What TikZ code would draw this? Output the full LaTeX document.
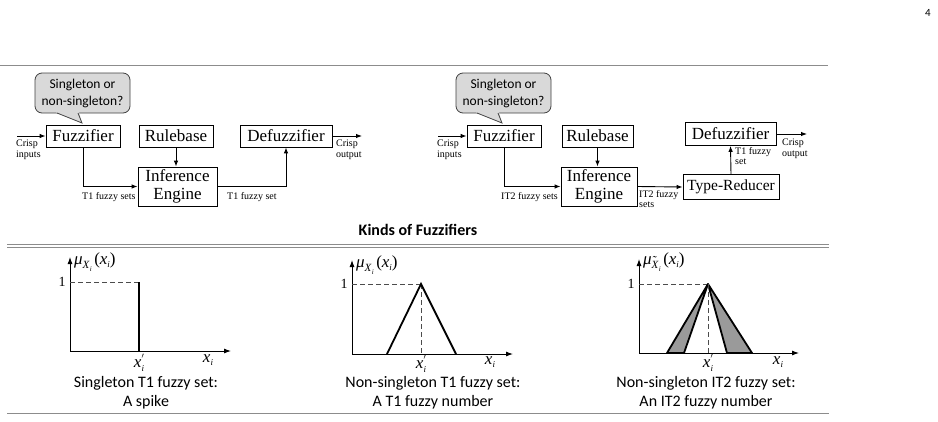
\documentclass[tikz,border=0pt]{standalone}
\usepackage{fontspec}
\setmainfont{Liberation Serif}
\newfontfamily\calib{Carlito}
\usetikzlibrary{arrows.meta}
\definecolor{rulegray}{HTML}{8C8C8C}
\definecolor{calfill}{HTML}{D9D9D9}
\definecolor{calline}{HTML}{404040}
\definecolor{tri}{HTML}{9A9A9A}
\newcommand{\mylblsub}[1]{\raisebox{-4pt}{\fontsize{11}{11}\selectfont\textit{#1}\raisebox{-2.5pt}{\fontsize{7}{7}\selectfont\textit{i}}}}
\newcommand{\mymulbl}[1]{\textit{μ}\mylblsub{#1}\hspace{2.5pt}(\textit{x}\raisebox{-3pt}{\fontsize{9}{9}\selectfont\textit{i}})}
\newcommand{\mytildex}{\makebox[0pt][l]{\hspace{0.5pt}\raisebox{4.5pt}{\fontsize{12}{12}\selectfont\char"02DC}}\textit{X}}
\newcommand{\myxp}{\textit{x}\rlap{\raisebox{5pt}{\fontsize{11}{11}\selectfont$'$}}\raisebox{-3.5pt}{\fontsize{9}{9}\selectfont\textit{i}}}
\newcommand{\myx}{\textit{x}\raisebox{-3.5pt}{\fontsize{9}{9}\selectfont\textit{i}}}
\begin{document}
\begin{tikzpicture}[x=1pt,y=-1pt,
  box/.style={draw, line width=0.8pt, inner sep=0pt, align=center, font=\fontsize{17}{18}\selectfont},
  flow/.style={-{Latex[length=6pt,width=4.5pt]}, line width=0.9pt},
  small/.style={font=\fontsize{10}{10.5}\selectfont, align=left, inner sep=0pt},
  calltext/.style={font=\calib\fontsize{13.5}{17}\selectfont, align=center, inner sep=0pt},
  callbox/.style={fill=calfill, draw=calline, line width=0.8pt},
  hrule/.style={draw=rulegray, line width=0.9pt},
  axis/.style={line width=0.9pt, -{Latex[length=7pt,width=5pt]}},
  mf/.style={line width=1.8pt},
  dashln/.style={dash pattern=on 5pt off 3pt, line width=0.8pt, draw=black!70},
  caption/.style={font=\calib\fontsize{16}{19.5}\selectfont, align=center, inner sep=0pt},
  mathlbl/.style={font=\fontsize{17}{17}\selectfont, inner sep=0pt},
  onelbl/.style={font=\fontsize{14}{14}\selectfont, inner sep=0pt}
]
\useasboundingbox (0,0) rectangle (938,421);

% page number and rules
\node[font=\calib\fontsize{11}{11}\selectfont, inner sep=0pt] (pg) at (928,13) {4};
\draw[hrule] (0,65) -- (828,65);
\draw[hrule] (7,244) -- (829,244);
\draw[hrule] (7,247.5) -- (829,247.5);
\draw[hrule] (7,413) -- (829,413);
\node[font=\calib\bfseries\fontsize{16}{16}\selectfont, inner sep=0pt] (kinds) at (418,230) {Kinds of Fuzzifiers};

% ===== left diagram =====
\draw[callbox, rounded corners=7pt] (35,73) rectangle (130,113);
\fill[calfill] (56,112.2) -- (82,123) -- (79,112.2) -- cycle;
\draw[calline, line width=0.8pt, line join=miter] (57,113) -- (82,123) -- (78,113);
\node[calltext] (call1) at (82.5,93) {Singleton or\\non-singleton?};
\node[box, minimum width=74pt, minimum height=22pt] (fuzz1) at (83,136) {Fuzzifier};
\node[box, minimum width=74pt, minimum height=22pt] (rule1) at (176,136) {Rulebase};
\node[box, minimum width=92pt, minimum height=22pt] (defz1) at (286,136) {Defuzzifier};
\node[box, minimum width=79pt, minimum height=39pt] (inf1) at (177.5,186.5) {Inference\\Engine};
\coordinate (in1) at (17,136);
\coordinate (out1) at (362,136);
\draw[flow] (in1) -- (fuzz1.west);
\node[small, anchor=north west] (lin1) at (16,140) {Crisp\\inputs};
\draw[flow] (fuzz1.south) |- (inf1.west);
\node[small, anchor=north west] (lfs1) at (82,192) {T1 fuzzy sets};
\draw[flow] (rule1.south) -- (rule1.south |- inf1.north);
\draw[flow] (inf1.east) -| (defz1.south);
\node[small, anchor=north west] (lfo1) at (227,192) {T1 fuzzy set};
\draw[flow] (defz1.east) -- (out1);
\node[small, anchor=north west] (lout1) at (336,140) {Crisp\\output};

% ===== right diagram =====
\draw[callbox, rounded corners=7pt] (456,73) rectangle (551,113);
\fill[calfill] (476,112.2) -- (502,123) -- (499,112.2) -- cycle;
\draw[calline, line width=0.8pt, line join=miter] (477,113) -- (502,123) -- (498,113);
\node[calltext] (call2) at (503.5,93) {Singleton or\\non-singleton?};
\node[box, minimum width=74pt, minimum height=22pt] (fuzz2) at (504,136) {Fuzzifier};
\node[box, minimum width=71pt, minimum height=22pt] (rule2) at (597.5,136) {Rulebase};
\node[box, minimum width=91pt, minimum height=23pt] (defz2) at (730.5,134) {Defuzzifier};
\node[box, minimum width=76pt, minimum height=39pt] (inf2) at (599,186.5) {Inference\\Engine};
\node[box, minimum width=96pt, minimum height=25pt, font=\fontsize{15.5}{16}\selectfont] (tr2) at (731,187) {Type-Reducer};
\coordinate (in2) at (438,136);
\coordinate (out2) at (807,134);
\draw[flow] (in2) -- (fuzz2.west);
\node[small, anchor=north west] (lin2) at (437,140) {Crisp\\inputs};
\draw[flow] (fuzz2.south) |- (inf2.west);
\node[small, anchor=north west] (lfs2) at (501,192) {IT2 fuzzy sets};
\draw[flow] (rule2.south) -- (rule2.south |- inf2.north);
\draw[flow] (inf2.east) -- (tr2.west);
\node[small, anchor=north west] (lfo2) at (639,190) {IT2 fuzzy\\sets};
\draw[flow] (tr2.north) -- (defz2.south);
\node[small, anchor=north west] (lt1) at (735,147) {T1 fuzzy\\set};
\draw[flow] (defz2.east) -- (out2);
\node[small, anchor=north west] (lout2) at (782,139) {Crisp\\output};

% ===== plot 1 =====
\draw[axis] (70,351) -- (70,257);
\draw[axis] (70,351) -- (231,351);
\draw[dashln] (70,282) -- (139,282);
\draw[mf] (139,282) -- (139,351.5);
\node[onelbl] (one1) at (62,282) {1};
\node[mathlbl, anchor=west] (mu1) at (74,262) {\mymulbl{X}};
\node[mathlbl] (xp1) at (139,363) {\myxp};
\node[mathlbl] (x1) at (208,360) {\myx};
\node[caption] (cap1) at (146,392.5) {Singleton T1 fuzzy set:\\A spike};

% ===== plot 2 =====
\draw[axis] (352,354) -- (352,260);
\draw[axis] (352,354) -- (513,354);
\draw[dashln] (352,284) -- (421,284);
\draw[dashln] (421,284) -- (421,354);
\draw[mf, line join=miter] (387,354) -- (421,284) -- (456,354);
\node[onelbl] (one2) at (344,284) {1};
\node[mathlbl, anchor=west] (mu2) at (356,265) {\mymulbl{X}};
\node[mathlbl] (xp2) at (421,364) {\myxp};
\node[mathlbl] (x2) at (490,362) {\myx};
\node[caption] (cap2) at (433,392.5) {Non-singleton T1 fuzzy set:\\A T1 fuzzy number};

% ===== plot 3 =====
\draw[axis] (639,353) -- (639,259);
\draw[axis] (639,353) -- (799,353);
\draw[dashln] (639,284) -- (708,284);
\draw[mf, fill=tri, line join=round] (667,353) -- (708,284) -- (684,353) -- cycle;
\draw[mf, fill=tri, line join=round] (727,353) -- (708,284) -- (752,353) -- cycle;
\draw[dashln] (708,284) -- (708,353);
\node[onelbl] (one3) at (631,284) {1};
\node[mathlbl, anchor=west] (mu3) at (643,262) {\mymulbl{\mytildex}};
\node[mathlbl] (xp3) at (708,363) {\myxp};
\node[mathlbl] (x3) at (778,362) {\myx};
\node[caption] (cap3) at (706,392.5) {Non-singleton IT2 fuzzy set:\\An IT2 fuzzy number};
\end{tikzpicture}
\end{document}
